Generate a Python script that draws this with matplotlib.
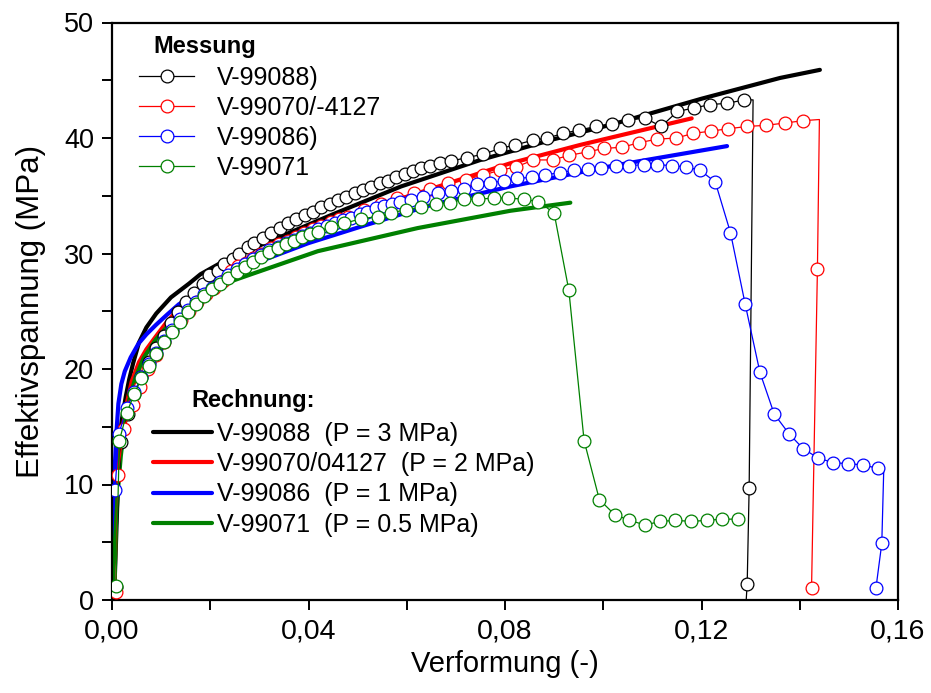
import matplotlib
matplotlib.use('Agg')
import matplotlib.pyplot as plt
from matplotlib.ticker import MultipleLocator, FixedLocator, FixedFormatter

plt.rcParams['font.family'] = ['Liberation Sans', 'DejaVu Sans']

# ---------------- data ----------------
# Measured curves (Messung)
meas_black_x = [0.0008, 0.0018, 0.0033, 0.0045, 0.0059, 0.0075, 0.0090, 0.0105, 0.0120, 0.0135,
                0.0150, 0.0167, 0.0185, 0.0197, 0.0215, 0.0228, 0.0246, 0.0258, 0.0276, 0.0289,
                0.0307, 0.0324, 0.0341, 0.0358, 0.0375, 0.0392, 0.0409, 0.0426, 0.0443, 0.0460,
                0.0477, 0.0494, 0.0511, 0.0528, 0.0545, 0.0562, 0.0579, 0.0596, 0.0613, 0.0630,
                0.0648, 0.0668, 0.0690, 0.0722, 0.0756, 0.0790, 0.0821, 0.0856, 0.0886, 0.0919,
                0.0951, 0.0986, 0.1018, 0.1051, 0.1086, 0.1118, 0.1151, 0.1185, 0.1218, 0.1252,
                0.1287, 0.1305, 0.1297, 0.1293, 0.1291]
meas_black_y = [1.1, 13.7, 16.1, 17.8, 19.3, 20.6, 21.8, 22.9, 24.0, 24.9,
                25.8, 26.6, 27.4, 28.1, 28.5, 29.1, 29.5, 30.0, 30.6, 30.9,
                31.3, 31.8, 32.2, 32.6, 33.0, 33.3, 33.6, 34.0, 34.3, 34.6,
                34.9, 35.2, 35.5, 35.8, 36.1, 36.3, 36.6, 36.9, 37.1, 37.4,
                37.6, 37.8, 38.0, 38.3, 38.6, 39.1, 39.4, 39.8, 40.0, 40.4,
                40.7, 41.0, 41.2, 41.6, 41.7, 41.0, 42.3, 42.6, 42.9, 43.0,
                43.3, 43.3, 9.7, 1.4, 0.0]
meas_black_m = [True] * 61 + [False, True, True, False]

meas_red_x = [0.0008, 0.0012, 0.0024, 0.0043, 0.0056, 0.0073, 0.0089, 0.0106, 0.0123, 0.0140,
              0.0157, 0.0174, 0.0191, 0.0208, 0.0225, 0.0242, 0.0257, 0.0272, 0.0288, 0.0303,
              0.0323, 0.0340, 0.0358, 0.0374, 0.0390, 0.0409, 0.0425, 0.0445, 0.0462, 0.0480,
              0.0512, 0.0547, 0.0581, 0.0614, 0.0648, 0.0683, 0.0720, 0.0756, 0.0789, 0.0823,
              0.0858, 0.0897, 0.0931, 0.0968, 0.1002, 0.1039, 0.1073, 0.1110, 0.1149, 0.1183,
              0.1220, 0.1254, 0.1293, 0.1332, 0.1370, 0.1407, 0.1440, 0.1436, 0.1424]
meas_red_y = [0.7, 10.8, 14.8, 16.9, 18.4, 20.0, 21.2, 22.3, 23.3, 24.2,
              25.0, 25.8, 26.5, 27.0, 27.6, 28.5, 28.9, 29.2, 29.6, 30.0,
              30.5, 30.8, 31.1, 31.4, 31.8, 32.1, 32.4, 32.7, 33.0, 33.2,
              33.8, 34.3, 34.8, 35.2, 35.6, 36.1, 36.4, 36.8, 37.2, 37.5,
              38.1, 38.1, 38.5, 38.8, 39.1, 39.2, 39.6, 39.9, 40.0, 40.4,
              40.6, 40.8, 41.0, 41.1, 41.3, 41.5, 41.6, 28.7, 1.0]
meas_red_m = [True] * 56 + [False, True, True]

meas_blue_x = [0.0006, 0.0014, 0.0030, 0.0045, 0.0060, 0.0075, 0.0090, 0.0106, 0.0122, 0.0138,
               0.0154, 0.0170, 0.0187, 0.0204, 0.0220, 0.0237, 0.0254, 0.0270, 0.0287, 0.0303,
               0.0320, 0.0337, 0.0354, 0.0370, 0.0387, 0.0404, 0.0420, 0.0437, 0.0454, 0.0470,
               0.0487, 0.0504, 0.0520, 0.0537, 0.0554, 0.0570, 0.0587, 0.0608, 0.0634, 0.0663,
               0.0690, 0.0716, 0.0744, 0.0770, 0.0797, 0.0825, 0.0854, 0.0882, 0.0911, 0.0940,
               0.0968, 0.0996, 0.1025, 0.1053, 0.1082, 0.1110, 0.1140, 0.1169, 0.1197, 0.1228,
               0.1259, 0.1289, 0.1319, 0.1348, 0.1378, 0.1407, 0.1437, 0.1467, 0.1498, 0.1528,
               0.1559, 0.1571, 0.1567, 0.1555]
meas_blue_y = [9.5, 14.4, 16.6, 18.0, 19.3, 20.4, 21.4, 22.4, 23.4, 24.3,
               25.1, 25.8, 26.5, 27.0, 27.5, 28.1, 28.7, 29.1, 29.5, 29.9,
               30.3, 30.6, 30.9, 31.2, 31.5, 31.8, 32.1, 32.4, 32.6, 32.9,
               33.1, 33.4, 33.6, 33.9, 34.1, 34.3, 34.5, 34.6, 34.9, 35.2,
               35.4, 35.6, 36.0, 36.1, 36.3, 36.5, 36.6, 36.8, 37.0, 37.2,
               37.3, 37.4, 37.6, 37.6, 37.7, 37.7, 37.6, 37.5, 37.2, 36.2,
               31.8, 25.6, 19.7, 16.1, 14.4, 13.1, 12.3, 11.9, 11.8, 11.7,
               11.4, 11.3, 4.9, 1.0]
meas_blue_m = [True] * 71 + [False, True, True]

meas_green_x = [0.0008, 0.0015, 0.0030, 0.0045, 0.0060, 0.0075, 0.0090, 0.0106, 0.0122, 0.0138,
                0.0154, 0.0170, 0.0187, 0.0204, 0.0220, 0.0237, 0.0254, 0.0270, 0.0287, 0.0303,
                0.0320, 0.0337, 0.0354, 0.0370, 0.0387, 0.0404, 0.0419, 0.0445, 0.0472, 0.0506,
                0.0541, 0.0567, 0.0598, 0.0628, 0.0659, 0.0689, 0.0716, 0.0746, 0.0777, 0.0807,
                0.0838, 0.0868, 0.0900, 0.0930, 0.0961, 0.0992, 0.1023, 0.1053, 0.1085, 0.1116,
                0.1147, 0.1179, 0.1211, 0.1242, 0.1274]
meas_green_y = [1.2, 13.8, 16.2, 17.8, 19.2, 20.3, 21.3, 22.3, 23.2, 24.1,
                24.9, 25.6, 26.3, 26.9, 27.4, 27.9, 28.4, 28.8, 29.3, 29.7,
                30.1, 30.5, 30.8, 31.1, 31.4, 31.7, 31.9, 32.3, 32.6, 33.0,
                33.2, 33.5, 33.8, 34.0, 34.3, 34.4, 34.7, 34.7, 34.8, 34.8,
                34.7, 34.5, 33.5, 26.8, 13.8, 8.7, 7.4, 6.9, 6.5, 6.8,
                6.9, 6.8, 6.9, 7.0, 7.0]

# Calculated curves (Rechnung)
sim_black_x = [0.0, 0.0004, 0.0009, 0.0014, 0.0020, 0.0028, 0.0035, 0.0043, 0.0055, 0.0070,
               0.0090, 0.0120, 0.0157, 0.0180, 0.0226, 0.0317, 0.0450, 0.0588, 0.0750, 0.0900,
               0.1020, 0.1200, 0.1360, 0.1441]
sim_black_y = [0.0, 7.0, 11.0, 13.6, 15.6, 17.6, 19.1, 20.5, 22.3, 23.6,
               24.8, 26.2, 27.4, 28.2, 29.3, 31.0, 33.4, 35.8, 38.1, 39.9,
               41.2, 43.4, 45.2, 45.9]

sim_red_x = [0.0, 0.0005, 0.0010, 0.0015, 0.0020, 0.0030, 0.0040, 0.0055, 0.0070, 0.0089,
             0.0112, 0.0136, 0.0200, 0.0300, 0.0400, 0.0512, 0.0650, 0.0810, 0.0953, 0.1180]
sim_red_y = [0.0, 6.0, 10.0, 12.5, 14.5, 17.0, 18.9, 20.6, 21.7, 22.8,
             24.1, 25.2, 27.3, 29.9, 31.9, 33.7, 35.6, 37.8, 39.4, 41.7]

sim_blue_x = [0.0, 0.0002, 0.0004, 0.0006, 0.0009, 0.0013, 0.0019, 0.0026, 0.0038, 0.0054,
              0.0070, 0.0089, 0.0112, 0.0136, 0.0200, 0.0300, 0.0400, 0.0512, 0.0650, 0.0810,
              0.1020, 0.1252]
sim_blue_y = [0.0, 6.0, 9.5, 11.8, 14.5, 17.0, 18.7, 19.8, 21.0, 22.2,
              23.0, 23.8, 24.7, 25.6, 27.3, 29.3, 30.9, 32.4, 34.2, 35.8,
              37.6, 39.3]

sim_green_x = [0.0, 0.0006, 0.0012, 0.0018, 0.0025, 0.0035, 0.0048, 0.0065, 0.0090, 0.0136,
               0.0180, 0.0236, 0.0283, 0.0419, 0.0622, 0.0811, 0.0933]
sim_green_y = [0.0, 5.0, 9.5, 12.5, 15.0, 17.3, 19.3, 21.0, 22.6, 24.8,
               26.3, 27.5, 28.2, 30.2, 32.2, 33.7, 34.4]

meas_labels = ['V-99088)', 'V-99070/-4127', 'V-99086)', 'V-99071']
sim_labels = ['V-99088  (P = 3 MPa)', 'V-99070/04127  (P = 2 MPa)',
              'V-99086  (P = 1 MPa)', 'V-99071  (P = 0.5 MPa)']
colors = ['black', '#ff0000', '#0000ff', '#008000']

x_ticks = [0.0, 0.04, 0.08, 0.12, 0.16]
x_ticklabels = ['0,00', '0,04', '0,08', '0,12', '0,16']
y_ticks = [0, 10, 20, 30, 40, 50]

# ---------------- figure ----------------
fig = plt.figure(figsize=(9.31, 6.93), dpi=100)
ax = fig.add_axes([112 / 931, 1 - 600 / 693, 786 / 931, 577.5 / 693])

sim_data = [(sim_black_x, sim_black_y), (sim_red_x, sim_red_y),
            (sim_blue_x, sim_blue_y), (sim_green_x, sim_green_y)]
meas_data = [(meas_black_x, meas_black_y, meas_black_m),
             (meas_red_x, meas_red_y, meas_red_m),
             (meas_blue_x, meas_blue_y, meas_blue_m),
             (meas_green_x, meas_green_y, None)]

sim_handles = []
for (sx, sy), c, lab in zip(sim_data, colors, sim_labels):
    h, = ax.plot(sx, sy, '-', color=c, lw=3.0, solid_capstyle='round', label=lab, zorder=2)
    sim_handles.append(h)

meas_handles = []
for (mx, my, mk), c, lab in zip(meas_data, colors, meas_labels):
    h, = ax.plot(mx, my, '-', color=c, lw=0.9, marker='o', ms=9.2,
                 mfc='white', mec=c, mew=0.9, markevery=mk, label=lab, zorder=3)
    meas_handles.append(h)

ax.set_xlim(0, 0.16)
ax.set_ylim(0, 50)
ax.xaxis.set_major_locator(FixedLocator(x_ticks))
ax.xaxis.set_major_formatter(FixedFormatter(x_ticklabels))
ax.xaxis.set_minor_locator(MultipleLocator(0.02))
ax.yaxis.set_major_locator(FixedLocator(y_ticks))
ax.yaxis.set_minor_locator(MultipleLocator(5))

for s in ax.spines.values():
    s.set_linewidth(1.6)
ax.tick_params(which='both', direction='out', length=7, width=1.4, top=False, right=False)
ax.tick_params(axis='x', labelsize=20.5, pad=6)
ax.tick_params(axis='y', labelsize=19.5, pad=6)

ax.set_xlabel('Verformung (-)', fontsize=21, labelpad=4)
ax.set_ylabel('Effektivspannung (MPa)', fontsize=22.5, labelpad=13)

leg1 = ax.legend(handles=meas_handles, loc='upper left',
                 bbox_to_anchor=(139 / 931, 1 - 66 / 693), bbox_transform=fig.transFigure,
                 frameon=False, fontsize=18, numpoints=1, borderpad=0, borderaxespad=0,
                 handlelength=2.2, handletextpad=0.9, labelspacing=0.24)
ax.add_artist(leg1)
leg2 = ax.legend(handles=sim_handles, loc='upper left',
                 bbox_to_anchor=(153 / 931, 1 - 422 / 693), bbox_transform=fig.transFigure,
                 frameon=False, fontsize=18, borderpad=0, borderaxespad=0,
                 handlelength=2.36, handletextpad=0.2, labelspacing=0.25)

fig.text(153 / 931, 1 - 53 / 693, 'Messung', fontsize=17, fontweight='bold', va='baseline')
fig.text(191 / 931, 1 - 407 / 693, 'Rechnung:', fontsize=17, fontweight='bold', va='baseline')

fig.savefig('out.png', dpi=100)
